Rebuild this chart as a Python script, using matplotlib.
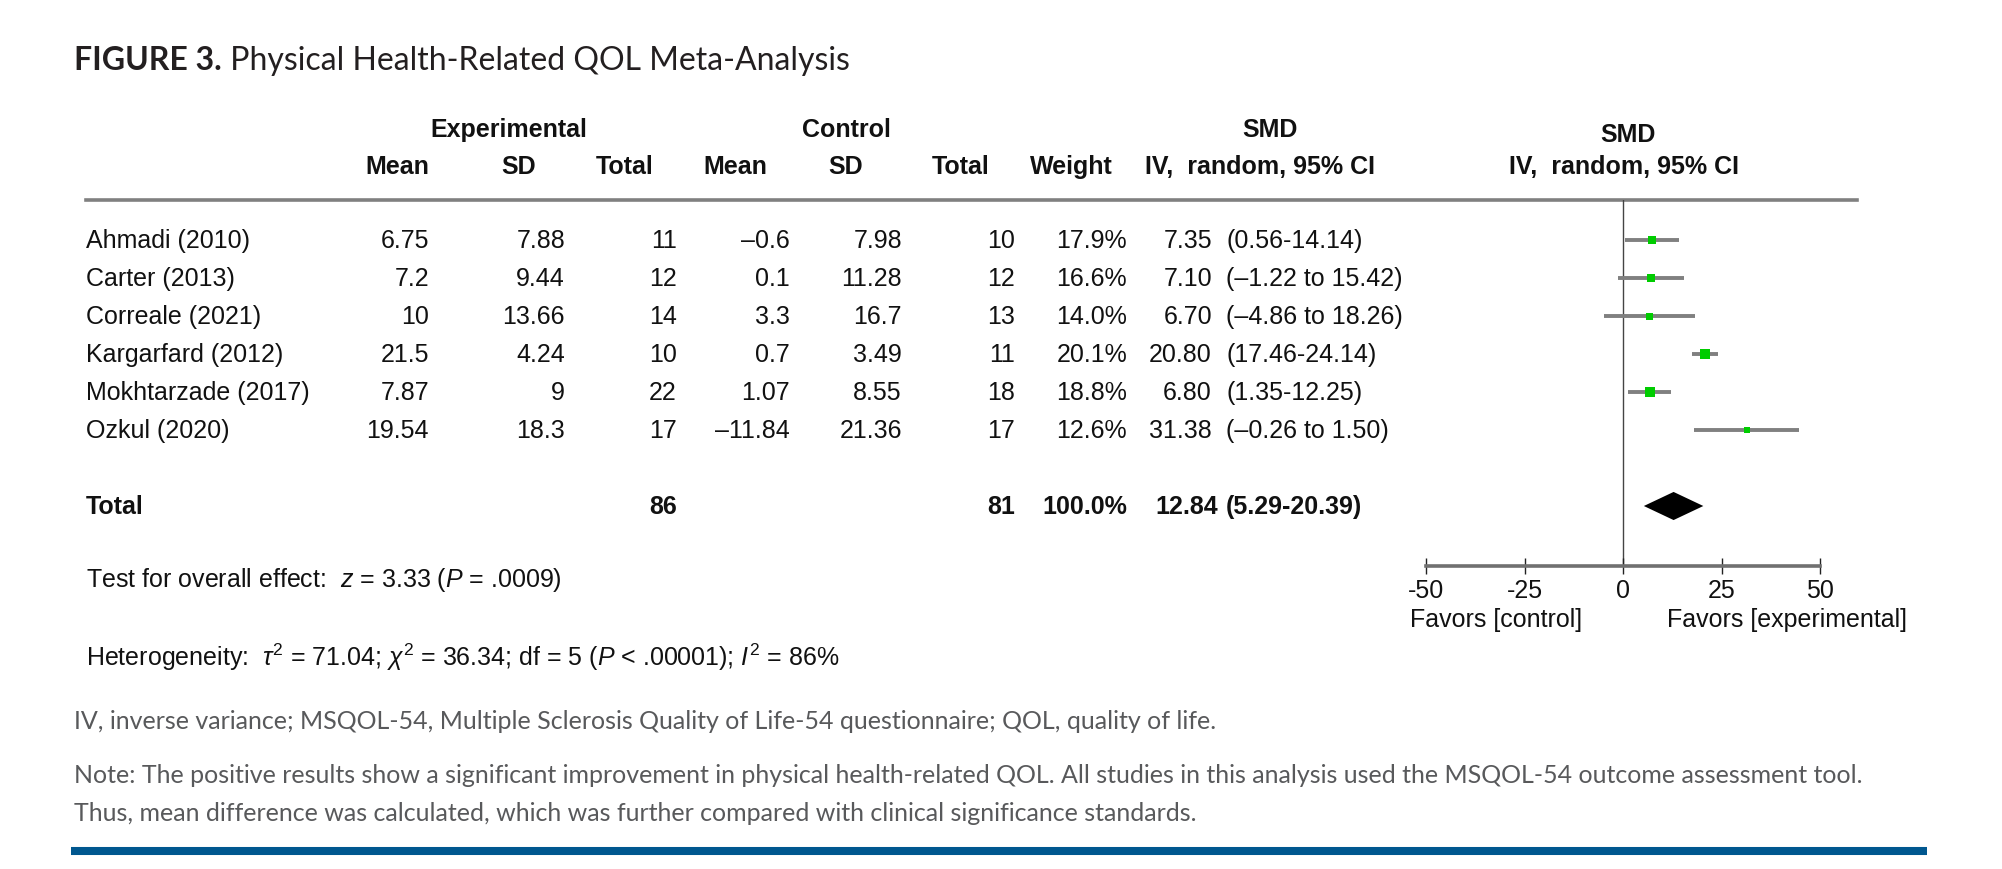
import matplotlib
matplotlib.use("Agg")
import matplotlib.pyplot as plt
from matplotlib.lines import Line2D

plt.rcParams["font.family"] = ["Liberation Sans", "DejaVu Sans"]
plt.rcParams["axes.unicode_minus"] = False
plt.rcParams["mathtext.fontset"] = "custom"
plt.rcParams["mathtext.rm"] = "Liberation Sans"
plt.rcParams["mathtext.it"] = "Liberation Sans:italic"
plt.rcParams["mathtext.bf"] = "Liberation Sans:bold"

# ---- data ----
STUDIES = ["Ahmadi (2010)", "Carter (2013)", "Correale (2021)",
           "Kargarfard (2012)", "Mokhtarzade (2017)", "Ozkul (2020)"]
EXP_MEAN = ["6.75", "7.2", "10", "21.5", "7.87", "19.54"]
EXP_SD = ["7.88", "9.44", "13.66", "4.24", "9", "18.3"]
EXP_N = ["11", "12", "14", "10", "22", "17"]
CTL_MEAN = ["\u20130.6", "0.1", "3.3", "0.7", "1.07", "\u201311.84"]
CTL_SD = ["7.98", "11.28", "16.7", "3.49", "8.55", "21.36"]
CTL_N = ["10", "12", "13", "11", "18", "17"]
WEIGHT = [17.9, 16.6, 14.0, 20.1, 18.8, 12.6]
SMD = [7.35, 7.10, 6.70, 20.80, 6.80, 31.38]
CI_TEXT = ["(0.56-14.14)", "(\u20131.22 to 15.42)", "(\u20134.86 to 18.26)",
           "(17.46-24.14)", "(1.35-12.25)", "(\u20130.26 to 1.50)"]
# CI whiskers as drawn in the plot
CI_LO = [0.56, -1.22, -4.86, 17.46, 1.35, 18.1]
CI_HI = [14.14, 15.42, 18.26, 24.14, 12.25, 44.7]

TOTAL_EXP_N = "86"
TOTAL_CTL_N = "81"
POOLED = 12.84
POOLED_LO = 5.29
POOLED_HI = 20.39

XTICKS = [-50, -25, 0, 25, 50]

W, H = 2002, 870
ROW0, ROWSTEP = 241, 38
TOTAL_IDX = 7

fig = plt.figure(figsize=(W / 100, H / 100), dpi=100)
fig.patch.set_facecolor("white")

# pixel-space canvas for the table text
tab = fig.add_axes([0, 0, 1, 1])
tab.set_xlim(0, W)
tab.set_ylim(H, 0)
tab.axis("off")


def rowy(i):
    return ROW0 + ROWSTEP * i


FS = 18
TXT = "#111111"

# title
t1 = tab.text(74, 61, "FIGURE 3.", fontsize=23, fontweight="bold",
              family=["Lato", "DejaVu Sans"], color="#231f20", va="center")
tab.annotate(" Physical Health-Related QOL Meta-Analysis", xy=(1, 0.5),
             xycoords=t1, va="center", fontsize=23,
             family=["Lato", "DejaVu Sans"], color="#231f20")

# headers
hdr = dict(fontsize=FS, fontweight="bold", color=TXT, va="center", ha="center")
tab.text(509, 130, "Experimental", **hdr)
tab.text(846, 130, "Control", **hdr)
tab.text(1270, 130, "SMD", **hdr)
tab.text(1628, 135, "SMD", **hdr)
for x, s in [(397, "Mean"), (519, "SD"), (625, "Total"), (735, "Mean"),
             (846, "SD"), (961, "Total"), (1071, "Weight"),
             (1260, "IV,  random, 95% CI"), (1624, "IV,  random, 95% CI")]:
    tab.text(x, 167, s, **hdr)

tab.add_line(Line2D([86, 1857], [201, 201], color="#808080", lw=2.6))

# table body
body = dict(fontsize=FS, color=TXT, va="center")
COLS = [(429, EXP_MEAN), (565, EXP_SD), (677, EXP_N),
        (790, CTL_MEAN), (902, CTL_SD), (1015, CTL_N)]
for i, name in enumerate(STUDIES):
    y = rowy(i)
    tab.text(86, y, name, ha="left", **body)
    for x, col in COLS:
        tab.text(x, y, col[i], ha="right", **body)
    tab.text(1127, y, f"{WEIGHT[i]:.1f}%", ha="right", **body)
    tab.text(1212, y, f"{SMD[i]:.2f}", ha="right", **body)
    tab.text(1226, y, CI_TEXT[i], ha="left", **body)

yt = rowy(TOTAL_IDX)
bold = dict(body, fontweight="bold")
tab.text(86, yt, "Total", ha="left", **bold)
tab.text(677, yt, TOTAL_EXP_N, ha="right", **bold)
tab.text(1015, yt, TOTAL_CTL_N, ha="right", **bold)
tab.text(1127, yt, f"{sum(WEIGHT):.1f}%", ha="right", **bold)
tab.text(1218, yt, f"{POOLED:.2f}", ha="right", **bold)
tab.text(1226, yt, f"({POOLED_LO:.2f}-{POOLED_HI:.2f})", ha="left", **bold)

# test statistics
tab.text(86, 580, r"Test for overall effect:  $z$ = 3.33 ($P$ = .0009)",
         ha="left", **body)
tab.text(86, 657, r"Heterogeneity:  $\tau^2$ = 71.04; $\chi^2$ = 36.34; "
         r"df = 5 ($P$ < .00001); $I^2$ = 86%", ha="left", **body)

# footnotes
foot = dict(fontsize=18, color="#58595b", family=["Lato", "DejaVu Sans"],
            va="center", ha="left")
tab.text(74, 722, "IV, inverse variance; MSQOL-54, Multiple Sclerosis Quality "
         "of Life-54 questionnaire; QOL, quality of life.", **foot)
tab.text(74, 776, "Note: The positive results show a significant improvement "
         "in physical health-related QOL. All studies in this analysis used "
         "the MSQOL-54 outcome assessment tool.", **foot)
tab.text(74, 814, "Thus, mean difference was calculated, which was further "
         "compared with clinical significance standards.", **foot)
tab.add_line(Line2D([71, 1927], [852, 852], color="#00578f", lw=5.8,
                    solid_capstyle="butt"))

# ---- forest plot ----
x_left, x_right = 1426, 1820
y_top, y_bot = 201, 567
ax = fig.add_axes([x_left / W, 1 - y_bot / H, (x_right - x_left) / W,
                   (y_bot - y_top) / H])
ax.set_xlim(-50, 50)
ax.set_ylim((y_bot - ROW0) / ROWSTEP, (y_top - ROW0) / ROWSTEP)
ax.patch.set_alpha(0)
for s in ("top", "right", "left"):
    ax.spines[s].set_visible(False)
ax.spines["bottom"].set_color("#707070")
ax.spines["bottom"].set_linewidth(2.6)
ax.set_yticks([])
ax.set_xticks(XTICKS)
ax.tick_params(axis="x", direction="inout", length=12, width=1.0,
               color="#222222", labelsize=FS, labelcolor=TXT, pad=3)

ax.axvline(0, color="#444444", lw=1.0, zorder=1)
for i in range(len(STUDIES)):
    ax.plot([CI_LO[i], CI_HI[i]], [i, i], color="#808080", lw=2.8,
            solid_capstyle="butt", zorder=2)
    ax.plot(SMD[i], i, marker="s", color="#00cc00", markeredgewidth=0,
            markersize=WEIGHT[i] * 0.36, zorder=3)

h = 0.37
ax.fill([POOLED_LO, POOLED, POOLED_HI, POOLED],
        [TOTAL_IDX, TOTAL_IDX - h, TOTAL_IDX, TOTAL_IDX + h],
        color="black", lw=0, zorder=3)

tab.text(1496, 620, "Favors [control]", ha="center", va="center",
         fontsize=FS, color=TXT)
tab.text(1787, 620, "Favors [experimental]", ha="center", va="center",
         fontsize=FS, color=TXT)

fig.savefig("out.png", dpi=100)
